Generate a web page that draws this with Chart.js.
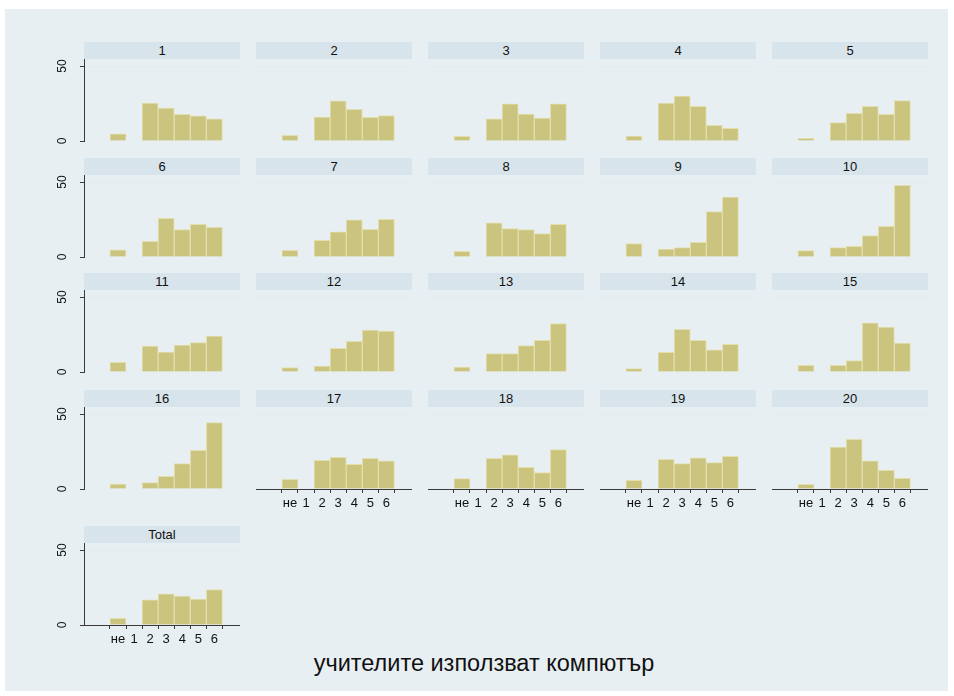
<!DOCTYPE html>
<html>
<head>
<meta charset="utf-8">
<script src="https://cdn.jsdelivr.net/npm/chart.js@4.4.0/dist/chart.umd.min.js"></script>
<style>
  body { margin: 0; width: 954px; height: 696px; background: #fff; position: relative; overflow: hidden;
         font-family: "Liberation Sans", Arial, sans-serif; }
  #bg { position: absolute; left: 5px; top: 9px; width: 943px; height: 682px; background: #e8eff2; }
  .strip { position: absolute; height: 17px; background: #d8e4eb; color: #111; font-size: 13px;
           line-height: 17px; text-align: center; }
  .panel { position: absolute; }
  #title { position: absolute; left: 0; width: 968px; top: 650px; text-align: center; font-size: 23.5px; color: #111; }
</style>
</head>
<body>
<div id="bg"></div>
<div id="panels"></div>
<div id="title">учителите използват компютър</div>
<script>
// categories on the x axis (не = 0, then 1..6)
const categories = ["не", "1", "2", "3", "4", "5", "6"];
const panelTitles = ["1", "2", "3", "4", "5", "6", "7", "8", "9", "10",
  "11", "12", "13", "14", "15", "16", "17", "18", "19", "20", "Total"];
const yTicks = [0, 50];

// percent per category, one array per panel
const series1 = [4.7, 0, 25.3, 22.0, 17.8, 16.7, 14.7];
const series2 = [3.8, 0, 16.0, 26.7, 21.1, 15.8, 16.9];
const series3 = [3.1, 0, 14.7, 24.7, 18.0, 15.3, 24.7];
const series4 = [3.3, 0, 25.3, 30.0, 23.1, 10.4, 8.4];
const series5 = [1.8, 0, 12.2, 18.4, 23.1, 17.8, 26.9];
const series6 = [4.7, 0, 10.4, 25.8, 18.2, 21.8, 19.8];
const series7 = [4.4, 0, 11.1, 16.7, 24.7, 18.4, 25.1];
const series8 = [3.8, 0, 22.7, 18.9, 18.2, 15.6, 21.8];
const series9 = [8.9, 0, 5.3, 6.2, 9.8, 30.2, 40.0];
const series10 = [4.2, 0, 6.2, 7.1, 14.2, 20.4, 47.8];
const series11 = [6.4, 0, 17.3, 13.3, 18.0, 19.6, 24.0];
const series12 = [2.9, 0, 4.0, 15.8, 20.4, 28.0, 27.3];
const series13 = [3.3, 0, 12.2, 12.2, 17.6, 21.1, 32.2];
const series14 = [2.2, 0, 13.1, 28.4, 21.1, 14.7, 18.4];
const series15 = [4.4, 0, 4.4, 7.6, 32.7, 30.0, 19.3];
const series16 = [3.3, 0, 4.2, 8.4, 16.9, 25.8, 44.2];
const series17 = [6.4, 0, 19.1, 21.1, 16.4, 20.4, 18.7];
const series18 = [6.9, 0, 20.4, 22.7, 14.4, 10.9, 26.2];
const series19 = [5.8, 0, 19.8, 16.9, 20.7, 17.6, 21.8];
const series20 = [3.1, 0, 28.0, 33.1, 18.7, 12.4, 7.1];
const seriesTotal = [4.4, 0, 16.7, 20.7, 19.3, 17.3, 23.6];

const seriesList = [series1, series2, series3, series4, series5, series6, series7,
  series8, series9, series10, series11, series12, series13, series14, series15,
  series16, series17, series18, series19, series20, seriesTotal];

// panel grid geometry
const colLeft = [84, 256, 428, 600, 772];
const rowZero = [141, 257, 372, 489, 625];
const plotW = 156;
const plotH = 82;
const stripH = 17;
const yAxisW = 30;
const xAxisH = 24;
const bottomPad = 8; // room under panels without an x axis so the "0" label fits

const BAR_FILL = "#cbc47f";
const BAR_EDGE = "#e3dfad";
const AXIS = "#3a3a3a";
const GRID = "#e3ebef";

/**
 * Helper: draws the rotated y tick labels (Stata style) from the y scale
 */
const rotatedYLabels = {
  id: "rotatedYLabels",
  afterDraw(chart, args, opts) {
    if (!opts.show) return;
    const y = chart.scales.y;
    const ctx = chart.ctx;
    ctx.save();
    ctx.fillStyle = "#111";
    ctx.font = '12px "Liberation Sans", Arial, sans-serif';
    ctx.textAlign = "center";
    ctx.textBaseline = "middle";
    yTicks.forEach(v => {
      ctx.save();
      ctx.translate(chart.chartArea.left - 21, y.getPixelForValue(v));
      ctx.rotate(-Math.PI / 2);
      ctx.fillText(String(v), 0, 0);
      ctx.restore();
    });
    ctx.restore();
  }
};

function buildPanelConfig(values, hasYAxis, hasXAxis) {
  return {
    type: "bar",
    data: {
      datasets: [{
        data: values.map((v, i) => ({ x: i, y: v })),
        backgroundColor: BAR_FILL,
        borderColor: BAR_EDGE,
        borderWidth: 1,
        barPercentage: 1,
        categoryPercentage: 1,
      }],
    },
    options: {
      responsive: false,
      animation: false,
      layout: { padding: 0 },
      plugins: {
        legend: { display: false },
        tooltip: { enabled: false },
        rotatedYLabels: { show: hasYAxis },
      },
      scales: {
        x: {
          type: "linear",
          min: -1.42,
          max: 6.9,
          display: hasXAxis,
          afterBuildTicks: s => { s.ticks = categories.map((_, i) => ({ value: i })); },
          afterFit: s => { s.height = hasXAxis ? xAxisH : bottomPad; },
          ticks: {
            autoSkip: false,
            maxRotation: 0,
            padding: 3,
            color: "#111",
            font: { family: '"Liberation Sans", Arial, sans-serif', size: 13 },
            callback: v => categories[v],
          },
          grid: { drawOnChartArea: false, tickLength: 4, tickColor: AXIS },
          border: { color: AXIS, width: 1 },
        },
        y: {
          min: 0,
          max: 54.67,
          afterBuildTicks: s => { s.ticks = yTicks.map(v => ({ value: v })); },
          afterFit: s => { s.width = hasYAxis ? yAxisW : 0; },
          ticks: { display: false },
          grid: {
            color: ctx => (ctx.tick && ctx.tick.value === 50 ? GRID : "rgba(0,0,0,0)"),
            drawTicks: hasYAxis,
            tickLength: 4,
            tickColor: AXIS,
          },
          border: { display: hasYAxis, color: AXIS, width: 1 },
        },
      },
    },
    plugins: [rotatedYLabels],
  };
}

function renderPanels() {
  const host = document.getElementById("panels");
  seriesList.forEach((values, idx) => {
    const col = idx % 5;
    const row = Math.floor(idx / 5);
    const hasYAxis = col === 0;
    const hasXAxis = idx >= 16;
    const zero = rowZero[row];

    const strip = document.createElement("div");
    strip.className = "strip";
    strip.style.left = colLeft[col] + "px";
    strip.style.top = (zero - plotH - stripH) + "px";
    strip.style.width = plotW + "px";
    strip.textContent = panelTitles[idx];
    host.appendChild(strip);

    const canvas = document.createElement("canvas");
    const w = plotW + (hasYAxis ? yAxisW : 0);
    const h = plotH + (hasXAxis ? xAxisH : bottomPad);
    canvas.width = w;
    canvas.height = h;
    canvas.className = "panel";
    canvas.style.left = (colLeft[col] - (hasYAxis ? yAxisW : 0)) + "px";
    canvas.style.top = (zero - plotH) + "px";
    host.appendChild(canvas);

    new Chart(canvas.getContext("2d"), buildPanelConfig(values, hasYAxis, hasXAxis));
  });
}

renderPanels();
</script>
</body>
</html>
